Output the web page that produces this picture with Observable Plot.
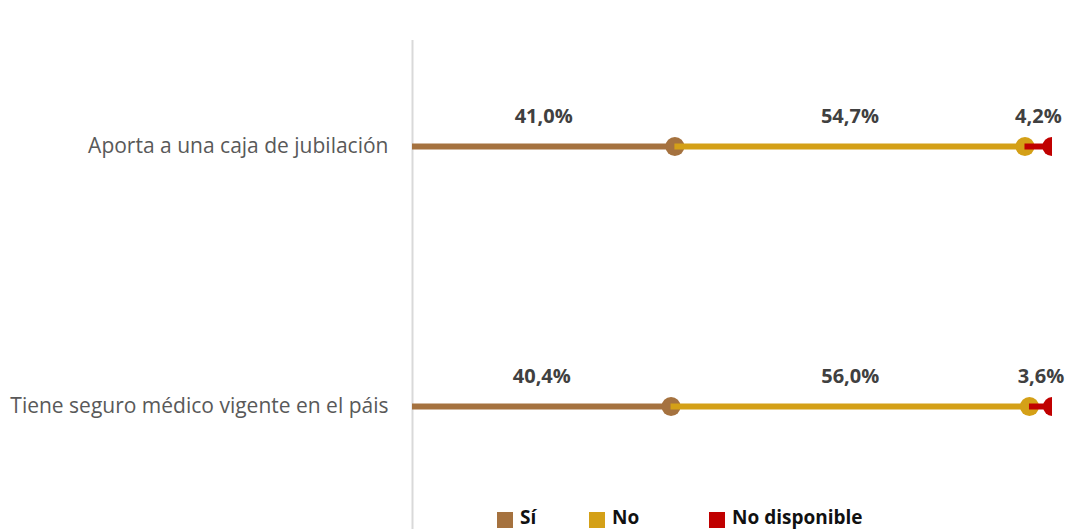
<!DOCTYPE html>
<html>
<head>
<meta charset="utf-8">
<script src="https://cdn.jsdelivr.net/npm/d3@7"></script>
<script src="https://cdn.jsdelivr.net/npm/@observablehq/plot@0.6"></script>
<style>
  html, body { margin: 0; padding: 0; background: #fff; }
  #wrap { position: relative; width: 1073px; height: 529px; overflow: hidden; }
  .item { position: absolute; top: 504px; display: flex; align-items: center;
          font-family: "Open Sans", sans-serif; font-weight: bold; font-size: 19px; color: #111; }
  .sw { width: 16px; height: 16px; margin-right: 7px; margin-top: 6px; }
</style>
</head>
<body>
<div id="wrap"></div>
<script>
const categories = ["Aporta a una caja de jubilación", "Tiene seguro médico vigente en el páis"];
const seriesNames = ["Sí", "No", "No disponible"];
const seriesColors = ["#A5723F", "#D4A017", "#C00000"];
const siValues = [41.0, 40.4];
const noValues = [54.7, 56.0];
const ndValues = [4.2, 3.6];

const seriesValues = [siValues, noValues, ndValues];
const segments = [];
categories.forEach((cat, i) => {
  let start = 0;
  seriesValues.forEach((vals, s) => {
    const v = vals[i];
    segments.push({cat, series: seriesNames[s], s, x1: start, x2: start + v, v});
    start += v;
  });
});
const fmt = v => v.toFixed(1).replace(".", ",") + "%";

const marks = [Plot.ruleX([0], {stroke: "#d9d9d9", strokeWidth: 2})];
seriesNames.forEach((name, s) => {
  const seg = segments.filter(d => d.s === s);
  marks.push(Plot.ruleY(seg, {y: "cat", x1: "x1", x2: "x2", stroke: seriesColors[s], strokeWidth: 6}));
  marks.push(Plot.dot(seg, {y: "cat", x: "x2", r: 9.5, fill: seriesColors[s], stroke: "none", clip: true}));
});
marks.push(Plot.text(segments, {
  y: "cat", x: d => (d.x1 + d.x2) / 2, text: d => fmt(d.v), dy: -30,
  fill: "#404040", fontWeight: "bold", fontSize: 20
}));

const chart = Plot.plot({
  width: 1073,
  height: 529,
  marginLeft: 412,
  marginRight: 21,
  marginTop: 40,
  marginBottom: 0,
  style: {fontFamily: "'Open Sans', sans-serif", background: "#fff", overflow: "visible"},
  x: {domain: [0, 100], axis: null},
  y: {domain: categories, type: "point", padding: 0, insetTop: 106, insetBottom: 123, axis: null},
  marks: [
    Plot.axisY({tickSize: 0, tickPadding: 24, fontSize: 21, fill: "#595959", label: null}),
    ...marks
  ]
});
const wrap = document.getElementById("wrap");
wrap.appendChild(chart);

const lefts = [497, 589, 709];
seriesNames.forEach((name, s) => {
  const it = document.createElement("div");
  it.className = "item";
  it.style.left = lefts[s] + "px";
  it.innerHTML = `<span class="sw" style="background:${seriesColors[s]}"></span><span>${name}</span>`;
  wrap.appendChild(it);
});
</script>
</body>
</html>
